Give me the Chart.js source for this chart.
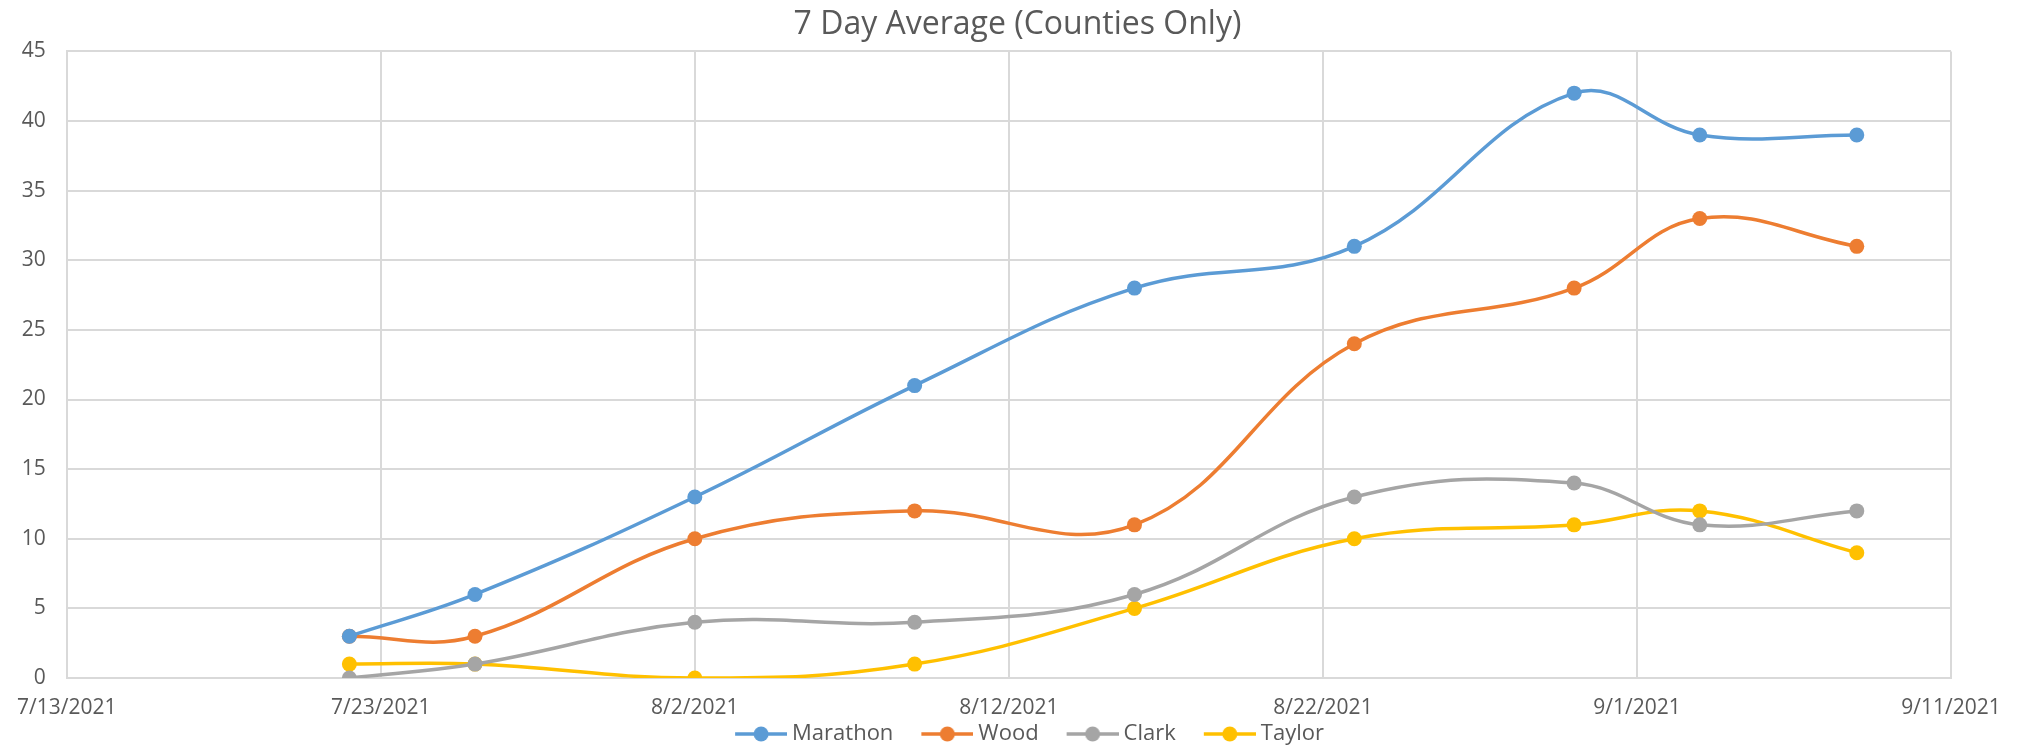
<!DOCTYPE html>
<html>
<head>
<meta charset="utf-8">
<script src="https://cdn.jsdelivr.net/npm/chart.js@4"></script>
<style>
  html, body { margin: 0; padding: 0; background: #fff; }
  #wrap { width: 2018px; height: 745px; }
</style>
</head>
<body>
<div id="wrap"><canvas id="lineChart" width="2018" height="745"></canvas></div>
<script>
// data
var dates = ["2021-07-22", "2021-07-26", "2021-08-02", "2021-08-09", "2021-08-16",
             "2021-08-23", "2021-08-30", "2021-09-03", "2021-09-08"];
var marathon = [3, 6, 13, 21, 28, 31, 42, 39, 39];
var wood     = [3, 3, 10, 12, 11, 24, 28, 33, 31];
var clark    = [0, 1, 4, 4, 6, 13, 14, 11, 12];
var taylor   = [1, 1, 0, 1, 5, 10, 11, 12, 9];

var seriesNames = ["Marathon", "Wood", "Clark", "Taylor"];
var seriesColors = ["#5b9bd5", "#ed7d31", "#a5a5a5", "#ffc000"];

// x axis runs 7/13/2021 .. 9/11/2021 in day steps
var startDate = new Date(2021, 6, 13);
var xMin = 0, xMax = 60, xStep = 10;
var yMin = 0, yMax = 45, yStep = 5;

function dayOffset(s) {
  var p = s.split("-");
  var d = new Date(+p[0], +p[1] - 1, +p[2]);
  return Math.round((d - startDate) / 86400000);
}
function fmtDate(off) {
  var d = new Date(startDate.getTime());
  d.setDate(d.getDate() + off);
  return (d.getMonth() + 1) + "/" + d.getDate() + "/" + d.getFullYear();
}

var xs = dates.map(dayOffset);
var allValues = [marathon, wood, clark, taylor];

// legend marker: short line with a dot, like the spreadsheet legend.
// the canvas is 12px wider than the legend box so the line runs close to the text
var ICON_BOX = 70, ICON_LEAD = 30;
function legendIcon(color) {
  var c = document.createElement("canvas");
  c.width = ICON_BOX + 12; c.height = 18;
  var g = c.getContext("2d");
  var x0 = ICON_LEAD, x1 = c.width, mid = (x0 + x1) / 2;
  g.strokeStyle = color; g.lineWidth = 3.5;
  g.beginPath(); g.moveTo(x0, 9); g.lineTo(x1, 9); g.stroke();
  g.fillStyle = color;
  g.beginPath(); g.arc(mid, 9, 7.5, 0, Math.PI * 2); g.fill();
  return c;
}

var datasets = seriesNames.map(function (name, i) {
  return {
    label: name,
    data: xs.map(function (x, j) { return { x: x, y: allValues[i][j] }; }),
    borderColor: seriesColors[i],
    backgroundColor: seriesColors[i],
    borderWidth: 3.5,
    pointRadius: 7.5,
    pointHoverRadius: 7.5,
    pointBorderWidth: 0,
    tension: 0.4,
    fill: false
  };
});

var textColor = "#595959";
Chart.defaults.font.family = "'Open Sans', 'Liberation Sans', sans-serif";
Chart.defaults.color = textColor;

new Chart(document.getElementById("lineChart").getContext("2d"), {
  type: "line",
  data: { datasets: datasets },
  options: {
    responsive: false,
    animation: false,
    layout: { padding: { left: 17, right: 0, top: 0, bottom: -10 } },
    plugins: {
      title: {
        display: true,
        text: "7 Day Average (Counties Only)",
        color: textColor,
        font: { size: 32, weight: "normal" },
        padding: { top: 6, bottom: 7 }
      },
      legend: {
        position: "bottom",
        labels: {
          color: textColor,
          font: { size: 22 },
          usePointStyle: true,
          pointStyleWidth: ICON_BOX,
          padding: 4,
          generateLabels: function (chart) {
            return chart.data.datasets.map(function (ds, i) {
              return {
                text: ds.label,
                fillStyle: ds.borderColor,
                strokeStyle: ds.borderColor,
                pointStyle: legendIcon(ds.borderColor),
                lineWidth: 0,
                fontColor: textColor,
                hidden: false,
                datasetIndex: i
              };
            });
          }
        }
      },
      tooltip: { enabled: false }
    },
    scales: {
      x: {
        type: "linear",
        min: xMin,
        max: xMax,
        grid: { color: "#d9d9d9", lineWidth: 2, drawTicks: false },
        border: { color: "#d9d9d9", width: 2 },
        ticks: {
          stepSize: xStep,
          padding: 17,
          maxRotation: 0,
          font: { size: 21 },
          color: textColor,
          callback: function (v) { return fmtDate(v); }
        },
        afterFit: function (s) { s.height = 41; }
      },
      y: {
        min: yMin,
        max: yMax,
        grid: { color: "#d9d9d9", lineWidth: 2, drawTicks: false },
        border: { color: "#d9d9d9", width: 2 },
        ticks: {
          stepSize: yStep,
          padding: 21,
          font: { size: 21 },
          color: textColor
        },
        afterFit: function (s) { s.width = 47; }
      },
      // empty right-hand margin as in the original
      yRight: {
        position: "right",
        grid: { drawOnChartArea: false, drawTicks: false },
        border: { display: false },
        ticks: { display: false },
        afterFit: function (s) { s.width = 67; }
      }
    }
  }
});
</script>
</body>
</html>
